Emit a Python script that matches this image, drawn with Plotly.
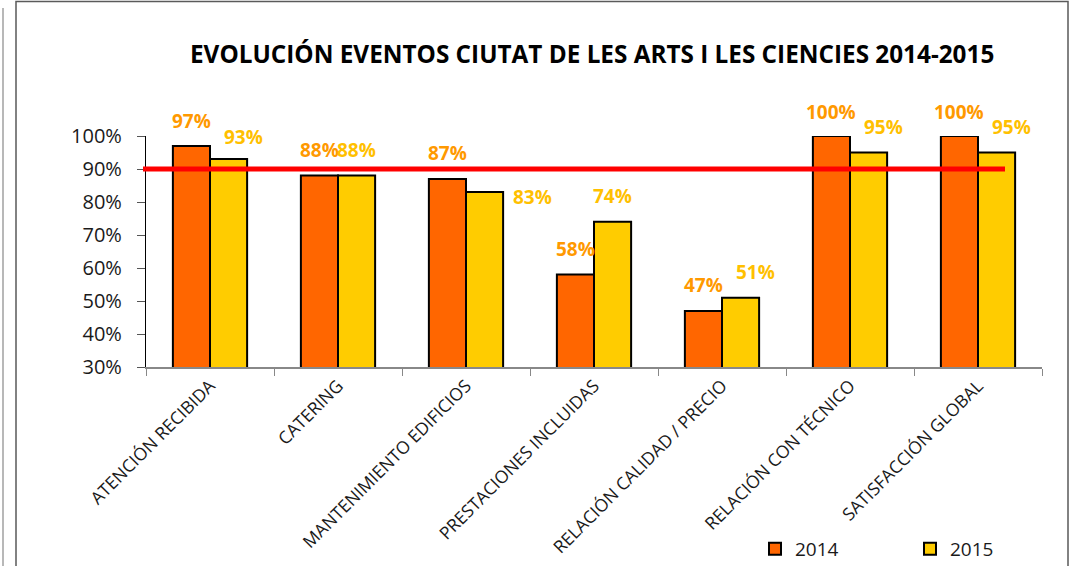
import plotly.graph_objects as go

categories = ["ATENCIÓN RECIBIDA", "CATERING", "MANTENIMIENTO EDIFICIOS",
              "PRESTACIONES INCLUIDAS", "RELACIÓN CALIDAD / PRECIO",
              "RELACIÓN CON TÉCNICO", "SATISFACCIÓN GLOBAL"]
values_2014 = [0.97, 0.88, 0.87, 0.58, 0.47, 1.00, 1.00]
values_2015 = [0.93, 0.88, 0.83, 0.74, 0.51, 0.95, 0.95]
target = 0.90
title_text = "EVOLUCIÓN EVENTOS CIUTAT DE LES ARTS I LES CIENCIES 2014-2015"

# label placement tweaks (pixels), as in the reference
dx_2014 = [0, 0, 0, 0, 0, 0, 0]
dy_2014 = [25, 26, 26, 26, 26, 24, 24]
dx_2015 = [15, 0, 48, 0, 15, 15, 15]
dy_2015 = [22, 26, -5, 26, 26, 26, 26]

C14 = "#FF6600"
C15 = "#FFCC00"
L14 = "#FF9900"
L15 = "#FFC000"

W, H = 1073, 566
ml, mr, mt, mb = 146, 31, 136, 199
pw, ph = W - ml - mr, H - mt - mb

fig = go.Figure()
fig.add_trace(go.Bar(x=categories, y=values_2014, name="2014",
                     marker=dict(color=C14, line=dict(color="black", width=2))))
fig.add_trace(go.Bar(x=categories, y=values_2015, name="2015",
                     marker=dict(color=C15, line=dict(color="black", width=2))))

bar_w = pw / 7 * (1 - 0.42) / 2
annos = []
for i, c in enumerate(categories):
    annos.append(dict(x=c, y=values_2014[i], xref="x", yref="y", showarrow=False,
                      text=f"{round(values_2014[i]*100)}%", xshift=-bar_w/2 + dx_2014[i],
                      yshift=dy_2014[i], yanchor="middle",
                      font=dict(family="Open Sans", size=19, color=L14, weight="bold")))
    annos.append(dict(x=c, y=values_2015[i], xref="x", yref="y", showarrow=False,
                      text=f"{round(values_2015[i]*100)}%", xshift=bar_w/2 + dx_2015[i],
                      yshift=dy_2015[i], yanchor="middle",
                      font=dict(family="Open Sans", size=19, color=L15, weight="bold")))


def px2x(px):
    return (px - ml) / pw


def py2y(py):
    return (mt + ph - py) / ph


annos.append(dict(x=px2x(592), y=py2y(53), xref="paper", yref="paper",
                  showarrow=False, text=title_text, xanchor="center", yanchor="middle",
                  font=dict(family="Open Sans", size=24.3, color="black", weight="bold")))

shapes = [
    dict(type="line", xref="paper", yref="y", x0=px2x(143), x1=px2x(1005), y0=target, y1=target,
         line=dict(color="#FF0000", width=5), layer="above"),
    dict(type="rect", xref="paper", yref="paper", x0=px2x(16), x1=px2x(1068), y0=py2y(600), y1=py2y(1.5),
         line=dict(color="#5a5a5a", width=1.5), fillcolor="rgba(0,0,0,0)", layer="below"),
    dict(type="line", xref="paper", yref="paper", x0=px2x(3), x1=px2x(3), y0=py2y(600), y1=py2y(8),
         line=dict(color="#a0a0a0", width=1.5)),
]

fig.update_layout(
    width=W, height=H,
    margin=dict(l=ml, r=mr, t=mt, b=mb, autoexpand=False),
    paper_bgcolor="white", plot_bgcolor="white",
    barmode="group", bargap=0.42, bargroupgap=0,
    font=dict(family="Open Sans", color="#1a1a1a"),
    showlegend=True,
    legend=dict(orientation="h", x=px2x(755), y=py2y(549), xanchor="left", yanchor="middle",
                entrywidth=110, entrywidthmode="pixels", font=dict(size=19, color="#1a1a1a"),
                bgcolor="rgba(0,0,0,0)", itemwidth=30),
    annotations=annos,
    shapes=shapes,
    xaxis=dict(type="category", tickangle=-45, tickfont=dict(size=17.5, color="#1a1a1a"),
               showline=True, linecolor="#888888", linewidth=1.5,
               ticks="outside", tickson="boundaries", ticklen=7, tickcolor="#888888",
               showgrid=False, zeroline=False),
    yaxis=dict(range=[0.3, 1.0], tickformat=".0%", dtick=0.1, tick0=0.3,
               tickfont=dict(size=20, color="#1a1a1a"),
               showline=True, linecolor="black", linewidth=1.2,
               ticks="outside", ticklen=8, tickcolor="#555555",
               ticklabelstandoff=11, showgrid=False, zeroline=False),
)

fig.write_html("out.html", config={"displayModeBar": False},
               post_script="document.body.style.margin='0';document.body.style.overflow='hidden';")
